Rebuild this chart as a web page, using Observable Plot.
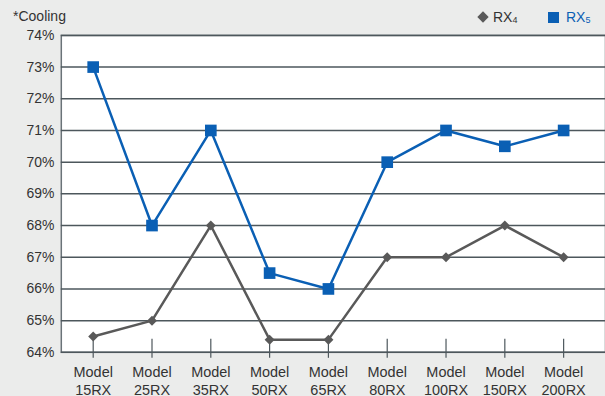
<!DOCTYPE html>
<html>
<head>
<meta charset="utf-8">
<script src="https://cdn.jsdelivr.net/npm/d3@7"></script>
<script src="https://cdn.jsdelivr.net/npm/@observablehq/plot@0.6"></script>
<style>
  html, body { margin: 0; padding: 0; background: #ebeceb; overflow: hidden; }
  #wrap { position: relative; width: 605px; height: 396px; font-family: "Liberation Sans", Arial, sans-serif; }
  #cooling { position: absolute; left: 13px; top: 8px; font-size: 14px; color: #333; }
  .leg { position: absolute; top: 9px; font-size: 14px; }
  .leg sub { font-size: 9px; vertical-align: baseline; position: relative; top: 1px; }
  #leg4 { left: 477px; color: #333; }
  #leg5 { left: 548px; color: #0a5fb4; }
  .sw { display: inline-block; vertical-align: middle; margin-right: 5px; position: relative; top: -1px; }
  #wrap svg { position: absolute; left: 0; top: 0; }
</style>
</head>
<body>
<div id="wrap">
  <div id="cooling">*Cooling</div>
  <div class="leg" id="leg4"><span class="sw" style="width:8px;height:8px;background:#595959;transform:rotate(45deg);margin-left:2px;margin-right:6px;"></span>RX<sub>4</sub></div>
  <div class="leg" id="leg5"><span class="sw" style="width:11px;height:11px;background:#0a5fb4;margin-right:7px;"></span>RX<sub>5</sub></div>
</div>
<script>
const categories = ["15RX", "25RX", "35RX", "50RX", "65RX", "80RX", "100RX", "150RX", "200RX"];
const rx4 = [64.5, 65, 68, 64.4, 64.4, 67, 67, 68, 67];
const rx5 = [73, 68, 71, 66.5, 66, 70, 71, 70.5, 71];
const yTicks = [64, 65, 66, 67, 68, 69, 70, 71, 72, 73, 74];

const d4 = categories.map((c, i) => ({model: c, value: rx4[i]}));
const d5 = categories.map((c, i) => ({model: c, value: rx5[i]}));

const chart = Plot.plot({
  width: 607,
  height: 396,
  marginLeft: 61,
  marginRight: 0,
  marginTop: 35,
  marginBottom: 43,
  style: {fontFamily: "Liberation Sans, Arial, sans-serif", fontSize: "14px", color: "#333", background: "transparent", overflow: "visible"},
  x: {type: "point", domain: categories, range: [90, 567], padding: 0, label: null},
  y: {domain: [64, 74], label: null},
  marks: [
    Plot.frame({fill: "white", stroke: "#6a7378", strokeWidth: 1.5}),
    Plot.ruleY(yTicks, {stroke: "#4d575c", strokeWidth: 1.5}),
    Plot.axisY({ticks: yTicks, tickSize: 0, tickPadding: 7, tickFormat: d => d + "%", fill: "#333", fontSize: 14, label: null}),
    Plot.axisX({tickSize: 19, dy: -13, stroke: "#4d575c", strokeWidth: 1.2, tickFormat: () => "", label: null}),
    Plot.axisX({tickSize: 0, tickPadding: 11, tickFormat: d => "Model\n" + d, lineHeight: 1.3, fill: "#333", fontSize: 14.5, label: null}),
    Plot.line(d4, {x: "model", y: "value", stroke: "#595959", strokeWidth: 2.5}),
    Plot.dot(d4, {x: "model", y: "value", symbol: "square", r: 4, rotate: 45, fill: "#595959"}),
    Plot.line(d5, {x: "model", y: "value", stroke: "#0a5fb4", strokeWidth: 2.5}),
    Plot.dot(d5, {x: "model", y: "value", symbol: "square", r: 6.6, fill: "#0a5fb4"})
  ]
});
document.getElementById("wrap").prepend(chart);
</script>
</body>
</html>
